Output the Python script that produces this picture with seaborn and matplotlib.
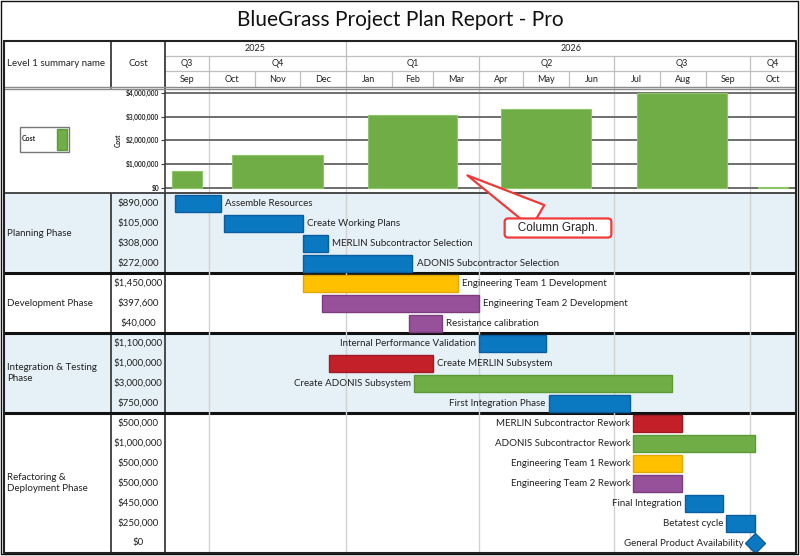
import pandas as pd
import matplotlib
matplotlib.use("Agg")
import matplotlib.pyplot as plt
import matplotlib.dates as mdates
from matplotlib.patches import Patch
import seaborn as sns

# ============================
# PALETTE
# ============================
BLUE, BLUE_E = "#0B78C2", "#0A5E9E"
RED, RED_E = "#C4202A", "#9E1A22"
GREEN, GREEN_E = "#70AD47", "#5B9A35"
YELLOW, YELLOW_E = "#FFC000", "#E3A800"
PURPLE, PURPLE_E = "#97509A", "#7A3C7E"
BAND = "#E6F0F7"
QGRID = "#D2D2D2"
DARK = "#3C3C3C"

# ============================
# DATA
# ============================
phases = ["Planning Phase", "Development Phase",
          "Integration & Testing\nPhase", "Refactoring &\nDeployment Phase"]
phase_sizes = [4, 3, 4, 7]
phase_shaded = [True, False, True, False]

tasks = ["Assemble Resources", "Create Working Plans", "MERLIN Subcontractor Selection",
         "ADONIS Subcontractor Selection", "Engineering Team 1 Development",
         "Engineering Team 2 Development", "Resistance calibration",
         "Internal Performance Validation", "Create MERLIN Subsystem",
         "Create ADONIS Subsystem", "First Integration Phase",
         "MERLIN Subcontractor Rework", "ADONIS Subcontractor Rework",
         "Engineering Team 1 Rework", "Engineering Team 2 Rework",
         "Final Integration", "Betatest cycle", "General Product Availability"]
costs = [890000, 105000, 308000, 272000, 1450000, 397600, 40000,
         1100000, 1000000, 3000000, 750000,
         500000, 1000000, 500000, 500000, 450000, 250000, 0]
starts = ["2025-09-08", "2025-10-11", "2025-12-03", "2025-12-03", "2025-12-03",
          "2025-12-16", "2026-02-13", "2026-04-01", "2025-12-21", "2026-02-16",
          "2026-05-18", "2026-07-14", "2026-07-14", "2026-07-14", "2026-07-14",
          "2026-08-18", "2026-09-15", "2026-10-04"]
ends = ["2025-10-09", "2025-12-03", "2025-12-20", "2026-02-15", "2026-03-18",
        "2026-04-01", "2026-03-07", "2026-05-16", "2026-03-01", "2026-08-09",
        "2026-07-12", "2026-08-16", "2026-10-04", "2026-08-16", "2026-08-16",
        "2026-09-13", "2026-10-04", "2026-10-04"]
task_colors = ["blue", "blue", "blue", "blue", "yellow", "purple", "purple",
               "blue", "red", "green", "blue", "red", "green", "yellow", "purple",
               "blue", "blue", "blue"]
label_side = ["right"] * 7 + ["left", "right"] + ["left"] * 9

quarter_starts = ["2025-07-01", "2025-10-01", "2026-01-01", "2026-04-01",
                  "2026-07-01", "2026-10-01"]
quarter_cost = [700000, 1400000, 3080000, 3300000, 3970000, 50000]

view_start, view_end = "2025-09-01", "2026-11-01"

fill = {"blue": BLUE, "red": RED, "green": GREEN, "yellow": YELLOW, "purple": PURPLE}
edge = {"blue": BLUE_E, "red": RED_E, "green": GREEN_E, "yellow": YELLOW_E, "purple": PURPLE_E}

# ============================
# STYLE
# ============================
sns.set_theme(style="white")
plt.rcParams["font.family"] = ["Lato", "DejaVu Sans"]
plt.rcParams["text.color"] = "#222222"

W, H = 800, 556
fig = plt.figure(figsize=(8, 5.56), dpi=100)


def box(x0, y0, x1, y1):
    # pixel box (top-left origin) -> figure fraction
    return [x0 / W, 1 - y1 / H, (x1 - x0) / W, (y1 - y0) / H]


d0 = mdates.date2num(pd.Timestamp(view_start))
d1 = mdates.date2num(pd.Timestamp(view_end))
months = pd.date_range(view_start, view_end, freq="MS")
qbounds = [mdates.date2num(pd.Timestamp(q)) for q in quarter_starts] + [
    mdates.date2num(pd.Timestamp("2027-01-01"))]
qlines = [q for q in qbounds if d0 < q < d1]

# ============================
# TABLE (names + costs + bands)
# ============================
n = len(tasks)
ax_t = fig.add_axes(box(4, 193, 796, 553))
ax_t.set_xlim(4, 796)
ax_t.set_ylim(n - 0.5, -0.5)
ax_t.axis("off")
row = 0
for name, size, shaded in zip(phases, phase_sizes, phase_shaded):
    if shaded:
        ax_t.axhspan(row - 0.5, row + size - 0.5, color=BAND, zorder=0)
    ax_t.text(7, row + (size - 1) / 2, name, ha="left", va="center", fontsize=7)
    if row > 0:
        ax_t.axhline(row - 0.5, color="#111111", lw=2.2, zorder=5)
    row += size
for i, c in enumerate(costs):
    ax_t.text(138, i, f"${c:,.0f}", ha="center", va="center", fontsize=7)
ax_t.axvline(111, color=DARK, lw=1.3)
ax_t.axvline(165, color=DARK, lw=1.3)

# ============================
# GANTT
# ============================
ax_g = fig.add_axes(box(165, 193, 796, 553), sharey=ax_t)
ax_g.set_facecolor("none")
ax_g.set_xlim(d0, d1)
ax_g.axis("off")
for q in qlines:
    ax_g.axvline(q, color=QGRID, lw=1, zorder=1)
for i in range(n):
    s = mdates.date2num(pd.Timestamp(starts[i]))
    e = mdates.date2num(pd.Timestamp(ends[i]))
    col = task_colors[i]
    if e > s:
        ax_g.barh(i, e - s, left=s, height=0.85, color=fill[col],
                  edgecolor=edge[col], lw=1, zorder=3)
    else:
        ax_g.plot(s, i, marker="D", ms=10, color=fill[col],
                  mec=edge[col], zorder=3, clip_on=False)
    if label_side[i] == "right":
        ax_g.annotate(tasks[i], (e, i), xytext=(3, 0), textcoords="offset points",
                      ha="left", va="center", fontsize=7, zorder=4)
    else:
        ax_g.annotate(tasks[i], (s, i), xytext=(-8 if e == s else -2, 0),
                      textcoords="offset points", ha="right", va="center",
                      fontsize=7, zorder=4)

# ============================
# COLUMN GRAPH
# ============================
ax_c = fig.add_axes(box(165, 88, 796, 193))
ax_c.set_xlim(d0, d1)
ax_c.set_ylim(-210000, 4200000)
for q in qlines:
    ax_c.axvline(q, color=QGRID, lw=1, zorder=0)
ax_c.set_yticks([0, 1000000, 2000000, 3000000, 4000000])
ax_c.yaxis.set_major_formatter(plt.FuncFormatter(lambda v, p: f"${v:,.0f}"))
ax_c.yaxis.grid(True, color="#6E6E6E", lw=1.4, zorder=0)
ax_c.set_axisbelow(True)
ax_c.set_xticks([])
for qs, qe, v in zip(qbounds[:-1], qbounds[1:], quarter_cost):
    a, b = max(qs, d0), min(qe, d1)
    w = (b - a) * 2 / 3
    ax_c.bar((a + b) / 2, v, width=w, color=GREEN, edgecolor="#8CC56A", lw=0.8, zorder=2)
ax_c.tick_params(axis="y", labelsize=4.8, length=3, width=0.8, color=DARK, pad=1,
                 left=True)
for lab in ax_c.get_yticklabels():
    lab.set_fontweight("bold")
ax_c.set_ylabel("Cost", fontsize=4.8, fontweight="bold", labelpad=3)
sns.despine(ax=ax_c, top=True, right=True, bottom=True)
ax_c.spines["left"].set_color(DARK)
ax_c.spines["left"].set_linewidth(1.2)
ax_c.set_facecolor("none")

fig.legend(handles=[Patch(facecolor=GREEN, edgecolor=GREEN_E)], labels=["Cost"],
           loc="center", bbox_to_anchor=(44.5 / W, 1 - 139.5 / H),
           prop={"size": 5, "weight": "bold"}, markerfirst=False,
           handlelength=1.4, handleheight=4.4, handletextpad=3.0, borderpad=0.3,
           borderaxespad=0, fancybox=False, edgecolor="#777777", framealpha=1)

# ============================
# HEADER
# ============================
ax_h = fig.add_axes(box(165, 41, 796, 88))
ax_h.set_xlim(d0, d1)
ax_h.set_ylim(88, 41)
ax_h.axis("off")
mnum = [mdates.date2num(m) for m in months]
for a, b, m in zip(mnum[:-1], mnum[1:], months[:-1]):
    ax_h.text((a + b) / 2, 79.5, m.strftime("%b"), ha="center", va="center", fontsize=6.5)
    if a > d0:
        ax_h.plot([a, a], [71, 88], color="#BFBFBF", lw=0.9)
for qs, qe, qi in zip(qbounds[:-1], qbounds[1:], quarter_starts):
    a, b = max(qs, d0), min(qe, d1)
    ax_h.text((a + b) / 2, 63.5, f"Q{pd.Timestamp(qi).quarter}", ha="center",
              va="center", fontsize=6.5)
    if a > d0:
        ax_h.plot([a, a], [56, 71], color="#BFBFBF", lw=0.9)
years = [2025, 2026]
for y in years:
    a = max(mdates.date2num(pd.Timestamp(f"{y}-01-01")), d0)
    b = min(mdates.date2num(pd.Timestamp(f"{y + 1}-01-01")), d1)
    ax_h.text((a + b) / 2, 48.5, str(y), ha="center", va="center", fontsize=6.5)
    if a > d0:
        ax_h.plot([a, a], [41, 56], color="#BFBFBF", lw=0.9)
ax_h.plot([d0, d1], [56, 56], color="#BFBFBF", lw=0.9)
ax_h.plot([d0, d1], [71, 71], color="#BFBFBF", lw=0.9)

# ============================
# OVERLAY: title, borders, callout
# ============================
ax_o = fig.add_axes([0, 0, 1, 1], zorder=10)
ax_o.set_xlim(0, W)
ax_o.set_ylim(H, 0)
ax_o.axis("off")
ax_o.set_facecolor("none")
ax_o.text(400, 20, "BlueGrass Project Plan Report - Pro", ha="center", va="center",
          fontsize=15, color="#111111")
ax_o.text(7, 64, "Level 1 summary name", ha="left", va="center", fontsize=7)
ax_o.text(138, 64, "Cost", ha="center", va="center", fontsize=7)
ax_o.plot([111, 111], [41, 88], color=DARK, lw=1.3)
ax_o.plot([165, 165], [41, 88], color=DARK, lw=1.3)
ax_o.plot([4, 796], [87, 87], color="#8A8A8A", lw=1)
ax_o.plot([4, 796], [89, 89], color="#8A8A8A", lw=1)
ax_o.plot([4, 796], [193, 193], color=DARK, lw=1.3)
ax_o.plot([4, 796, 796, 4, 4], [41, 41, 553, 553, 41], color="#222222", lw=1.5)
ax_o.plot([1, 798, 798, 1, 1], [1, 1, 554, 554, 1], color="#111111", lw=1)

ax_o.annotate("   Column Graph.   ", xy=(465, 174), xytext=(558, 228),
              ha="center", va="center", fontsize=8.5,
              family=["Liberation Sans", "DejaVu Sans"],
              bbox=dict(boxstyle="round,pad=0.3,rounding_size=0.3", fc="white",
                        ec="#F03A3A", lw=1.6),
              arrowprops=dict(arrowstyle="wedge,tail_width=2.2,shrink_factor=0.5",
                              fc="white", ec="#F03A3A", lw=1.6))

fig.savefig("out.png", dpi=100)
